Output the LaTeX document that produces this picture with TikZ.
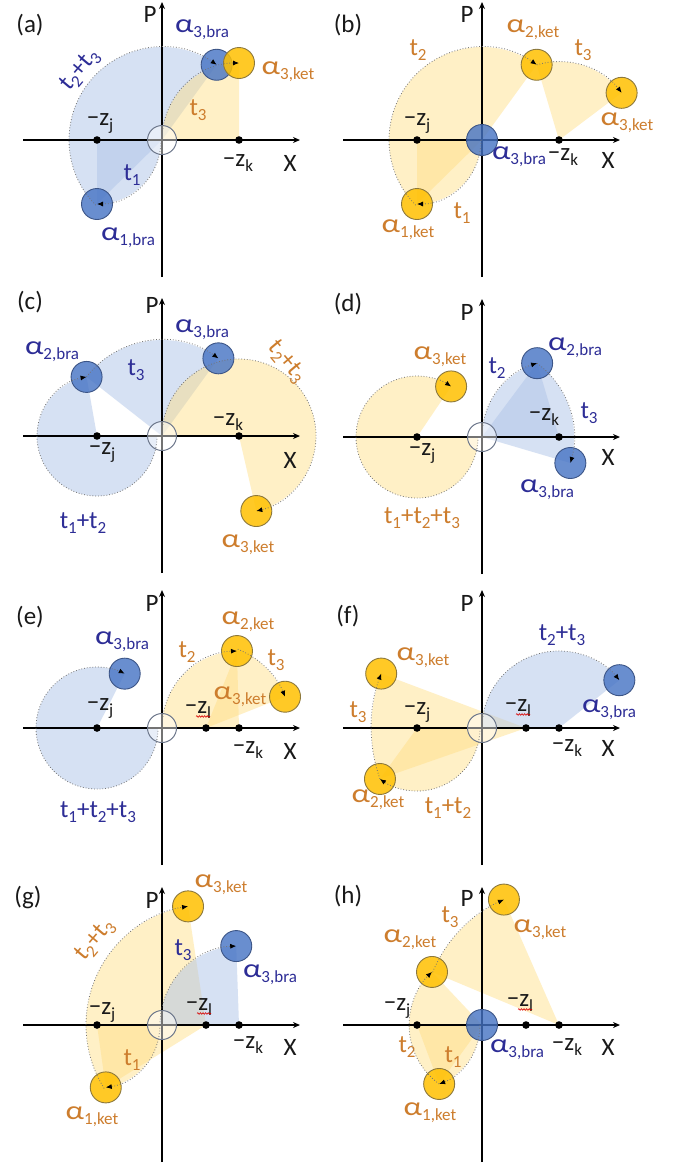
\documentclass[tikz,border=0pt]{standalone}
\usepackage{fontspec}
\setmainfont{Carlito}
\usetikzlibrary{arrows.meta,decorations.pathmorphing,calc}
\pgfdeclarelayer{sec}
\pgfdeclarelayer{ax}
\pgfdeclarelayer{fg}
\pgfsetlayers{sec,ax,main,fg}
\definecolor{bfill}{RGB}{175,196,232}
\definecolor{yfill}{RGB}{255,222,130}
\definecolor{bcirc}{RGB}{68,114,196}
\definecolor{bcircd}{RGB}{60,85,135}
\definecolor{ycirc}{RGB}{255,192,0}
\definecolor{ycircd}{RGB}{140,120,60}
\definecolor{ocirc}{RGB}{110,120,140}
\definecolor{tblue}{RGB}{45,45,150}
\definecolor{torange}{RGB}{205,125,45}
\definecolor{tblack}{RGB}{25,25,25}
\tikzset{
  bsec/.style={fill=bfill, fill opacity=0.5},
  ysec/.style={fill=yfill, fill opacity=0.45},
  axisline/.style={line width=1.5pt, draw=black, -{Stealth[length=7pt,width=6pt]}},
  traj/.style={draw=black!55, line width=0.8pt, dotted, -{Latex[length=6pt,width=5pt,color=black]}},
  bstate/.style={circle, minimum size=31pt, inner sep=0pt, fill=bcirc, fill opacity=0.8, draw=bcircd, line width=0.9pt},
  ystate/.style={circle, minimum size=31pt, inner sep=0pt, fill=ycirc, fill opacity=0.85, draw=ycircd, line width=0.9pt},
  ostate/.style={circle, minimum size=29pt, inner sep=0pt, fill=white, fill opacity=0.45, draw=ocirc, line width=1pt},
  lbl/.style={font=\fontsize{25}{29}\selectfont, inner sep=0pt},
  lblB/.style={lbl, text=tblue},
  lblO/.style={lbl, text=torange},
  lblK/.style={lbl, text=tblack},
  squig/.style={draw=red!85!black, line width=0.6pt, decorate, decoration={snake, amplitude=0.8pt, segment length=2.6pt}}
}
\newcommand\sbs[1]{\raisebox{-0.2em}{\fontsize{17}{17}\selectfont #1}}
\newcommand\Al[1]{\scalebox{1.3}[1.05]{α}\sbs{#1}}
\newcommand\mz[1]{−z\sbs{#1}}
% center, radius, start angle, end angle, name of end, sector style
\newcommand\Tr[6]{%
  \begin{pgfonlayer}{fg}\draw[traj] (#1) ++(#3:#2pt) arc[start angle=#3, end angle=#4, radius=#2pt] coordinate (#5);\end{pgfonlayer}%
  \begin{pgfonlayer}{sec}\fill[#6] (#1) -- ++(#3:#2pt) arc[start angle=#3, end angle=#4, radius=#2pt] -- cycle;\end{pgfonlayer}}
\newcommand\Dot[1]{\begin{pgfonlayer}{ax}\fill[black] (#1) circle[radius=3.8pt];\end{pgfonlayer}}
\newcommand\Axes{\begin{pgfonlayer}{ax}\draw[axisline] (-139,0) -- (138,0); \draw[axisline] (0,-137) -- (0,138);\end{pgfonlayer}}
\newcommand\Sq[1]{\draw[squig] ($(#1.base)+(-2,-3)$) -- ($(#1.base)+(12,-3)$);}

\begin{document}
\begin{tikzpicture}[x=1pt, y=1pt]
\begin{pgfonlayer}{sec}\fill[white] (0,0) rectangle (686,-1163);\end{pgfonlayer}
\useasboundingbox (0,0) rectangle (686,-1163);

% ---------------- (a)
\begin{scope}[shift={(162,-140)}]
  \coordinate (aO) at (0,0); \coordinate (aj) at (-65,0); \coordinate (ak) at (77,0);
  \Axes \Dot{aj} \Dot{ak}
  \Tr{aj}{64}{0}{-90}{a-1b}{bsec}
  \Tr{aO}{93}{224.5}{54}{a-3b}{bsec}
  \Tr{ak}{77}{180}{90}{a-3k}{ysec}
  \node[ostate] (a-o) at (aO) {};
  \node[bstate] (a-s1b) at (a-1b) {};
  \node[bstate] (a-s3b) at (a-3b) {};
  \node[ystate] (a-s3k) at (a-3k) {};
\end{scope}
\node[lblK] (a-tag) at (30,-25) {(a)};
\node[lblK] (a-P) at (150,-14) {P};
\node[lblK] (a-X) at (290,-163) {X};
\node[lblK] (a-zj) at (100,-123) {\mz{j}};
\node[lblK] (a-zk) at (238,-163) {\mz{k}};
\node[lblB] (a-l3b) at (202,-30) {\Al{3,bra}};
\node[lblO] (a-l3k) at (288,-72) {\Al{3,ket}};
\node[lblB] (a-l1b) at (128,-238) {\Al{1,bra}};
\node[lblB] (a-t1) at (132,-175) {t\sbs{1}};
\node[lblB, rotate=50] (a-t23) at (80,-70) {t\sbs{2}+t\sbs{3}};
\node[lblO] (a-t3) at (198,-110) {t\sbs{3}};

% ---------------- (b)
\begin{scope}[shift={(482,-140)}]
  \coordinate (bO) at (0,0); \coordinate (bj) at (-65,0); \coordinate (bk) at (77,0);
  \Axes \Dot{bj} \Dot{bk}
  \Tr{bj}{64}{0}{-90}{b-1k}{ysec}
  \Tr{bO}{93}{224.5}{54}{b-2k}{ysec}
  \Tr{bk}{78.4}{106.5}{37}{b-3k}{ysec}
  \node[bstate] (b-s3b) at (bO) {};
  \node[ystate] (b-s1k) at (b-1k) {};
  \node[ystate] (b-s2k) at (b-2k) {};
  \node[ystate] (b-s3k) at (b-3k) {};
\end{scope}
\node[lblK] (b-tag) at (348,-25) {(b)};
\node[lblK] (b-P) at (467,-14) {P};
\node[lblK] (b-X) at (608,-160) {X};
\node[lblK] (b-zj) at (417,-123) {\mz{j}};
\node[lblK] (b-zk) at (563,-157) {\mz{k}};
\node[lblO] (b-t2) at (418,-50) {t\sbs{2}};
\node[lblO] (b-l2k) at (533,-30) {\Al{2,ket}};
\node[lblO] (b-t3) at (583,-50) {t\sbs{3}};
\node[lblO] (b-l3k) at (627,-123) {\Al{3,ket}};
\node[lblB] (b-l3b) at (519,-157) {\Al{3,bra}};
\node[lblO] (b-t1) at (462,-213) {t\sbs{1}};
\node[lblO] (b-l1k) at (408,-230) {\Al{1,ket}};

% ---------------- (c)
\begin{scope}[shift={(162,-436)}]
  \coordinate (cO) at (0,0); \coordinate (cj) at (-65,0); \coordinate (ck) at (77,0);
  \Axes \Dot{cj} \Dot{ck}
  \Tr{cj}{60}{0}{-260}{c-2b}{bsec}
  \Tr{cO}{96}{141.9}{54}{c-3b}{bsec}
  \Tr{ck}{77}{180}{-77}{c-3k}{ysec}
  \node[ostate] (c-o) at (cO) {};
  \node[bstate] (c-s2b) at (c-2b) {};
  \node[bstate] (c-s3b) at (c-3b) {};
  \node[ystate] (c-s3k) at (c-3k) {};
\end{scope}
\node[lblK] (c-tag) at (30,-302) {(c)};
\node[lblK] (c-P) at (152,-305) {P};
\node[lblK] (c-X) at (290,-460) {X};
\node[lblK] (c-zj) at (102,-452) {\mz{j}};
\node[lblK] (c-zk) at (228,-422) {\mz{k}};
\node[lblB] (c-l2b) at (52,-352) {\Al{2,bra}};
\node[lblB] (c-t3) at (136,-370) {t\sbs{3}};
\node[lblB] (c-l3b) at (202,-330) {\Al{3,bra}};
\node[lblO, rotate=-50] (c-t23) at (287,-362) {t\sbs{2}+t\sbs{3}};
\node[lblB] (c-t12) at (83,-523) {t\sbs{1}+t\sbs{2}};
\node[lblO] (c-l3k) at (248,-545) {\Al{3,ket}};

% ---------------- (d)
\begin{scope}[shift={(482,-437)}]
  \coordinate (dO) at (0,0); \coordinate (dj) at (-65,0); \coordinate (dk) at (77,0);
  \Axes \Dot{dj} \Dot{dk}
  \Tr{dj}{61}{0}{-304}{d-3k}{ysec}
  \Tr{dk}{77}{180}{106.5}{d-2b}{bsec}
  \Tr{dO}{92.1}{53.3}{-16.4}{d-3b}{bsec}
  \node[ostate] (d-o) at (dO) {};
  \node[ystate] (d-s3k) at (d-3k) {};
  \node[bstate] (d-s2b) at (d-2b) {};
  \node[bstate] (d-s3b) at (d-3b) {};
\end{scope}
\node[lblK] (d-tag) at (348,-304) {(d)};
\node[lblK] (d-P) at (467,-312) {P};
\node[lblK] (d-X) at (608,-457) {X};
\node[lblK] (d-zj) at (422,-453) {\mz{j}};
\node[lblK] (d-zk) at (544,-417) {\mz{k}};
\node[lblO] (d-l3k) at (440,-357) {\Al{3,ket}};
\node[lblB] (d-t2) at (497,-368) {t\sbs{2}};
\node[lblB] (d-l2b) at (575,-348) {\Al{2,bra}};
\node[lblB] (d-t3) at (589,-413) {t\sbs{3}};
\node[lblB] (d-l3b) at (547,-490) {\Al{3,bra}};
\node[lblO] (d-t123) at (422,-518) {t\sbs{1}+t\sbs{2}+t\sbs{3}};

% ---------------- (e)
\begin{scope}[shift={(162,-728)}]
  \coordinate (eO) at (0,0); \coordinate (ej) at (-65,0); \coordinate (ek) at (77,0); \coordinate (el) at (44,0);
  \Axes \Dot{ej} \Dot{ek} \Dot{el}
  \Tr{ej}{61}{0}{-297}{e-3b}{bsec}
  \Tr{ek}{77}{180}{91.5}{e-2k}{ysec}
  \Tr{el}{85}{68.1}{21.6}{e-3k}{ysec}
  \node[ostate] (e-o) at (eO) {};
  \node[bstate] (e-s3b) at (e-3b) {};
  \node[ystate] (e-s2k) at (e-2k) {};
  \node[ystate] (e-s3k) at (e-3k) {};
\end{scope}
\node[lblK] (e-tag) at (30,-617) {(e)};
\node[lblK] (e-P) at (152,-603) {P};
\node[lblK] (e-X) at (290,-751) {X};
\node[lblK] (e-zj) at (100,-708) {\mz{j}};
\node[lblK] (e-zl) at (198,-710) {\mz{l}};
\node[lblK] (e-zk) at (248,-750) {\mz{k}};
\Sq{e-zl}
\node[lblB] (e-l3b) at (122,-642) {\Al{3,bra}};
\node[lblO] (e-t2) at (187,-652) {t\sbs{2}};
\node[lblO] (e-l2k) at (248,-622) {\Al{2,ket}};
\node[lblO] (e-t3) at (276,-660) {t\sbs{3}};
\node[lblO] (e-l3k) at (240,-697) {\Al{3,ket}};
\node[lblB] (e-t123) at (98,-812) {t\sbs{1}+t\sbs{2}+t\sbs{3}};

% ---------------- (f)
\begin{scope}[shift={(482,-728)}]
  \coordinate (fO) at (0,0); \coordinate (fj) at (-65,0); \coordinate (fk) at (77,0); \coordinate (fl) at (44,0);
  \Axes \Dot{fj} \Dot{fk} \Dot{fl}
  \Tr{fj}{63}{0}{-126}{f-2k}{ysec}
  \Tr{fl}{154.7}{-160.8}{-200.6}{f-3k}{ysec}
  \Tr{fk}{77}{180}{38.4}{f-3b}{bsec}
  \node[ostate] (f-o) at (fO) {};
  \node[ystate] (f-s2k) at (f-2k) {};
  \node[ystate] (f-s3k) at (f-3k) {};
  \node[bstate] (f-s3b) at (f-3b) {};
\end{scope}
\node[lblK] (f-tag) at (348,-616) {(f)};
\node[lblK] (f-P) at (467,-603) {P};
\node[lblK] (f-X) at (608,-748) {X};
\node[lblK] (f-zj) at (417,-712) {\mz{j}};
\node[lblK] (f-zl) at (518,-708) {\mz{l}};
\node[lblK] (f-zk) at (567,-748) {\mz{k}};
\Sq{f-zl}
\node[lblB] (f-t23) at (562,-635) {t\sbs{2}+t\sbs{3}};
\node[lblO] (f-l3k) at (423,-658) {\Al{3,ket}};
\node[lblO] (f-t3) at (358,-712) {t\sbs{3}};
\node[lblB] (f-l3b) at (609,-710) {\Al{3,bra}};
\node[lblO] (f-l2k) at (378,-800) {\Al{2,ket}};
\node[lblO] (f-t12) at (448,-808) {t\sbs{1}+t\sbs{2}};

% ---------------- (g)
\begin{scope}[shift={(162,-1025)}]
  \coordinate (gO) at (0,0); \coordinate (gj) at (-65,0); \coordinate (gk) at (77,0); \coordinate (gl) at (44,0);
  \Axes \Dot{gj} \Dot{gk} \Dot{gl}
  \Tr{gj}{63}{0}{-82}{g-1k}{ysec}
  \Tr{gl}{120}{211.9}{98.6}{g-3k}{ysec}
  \Tr{gk}{79}{180}{92}{g-3b}{bsec}
  \node[ostate] (g-o) at (gO) {};
  \node[ystate] (g-s1k) at (g-1k) {};
  \node[ystate] (g-s3k) at (g-3k) {};
  \node[bstate] (g-s3b) at (g-3b) {};
\end{scope}
\node[lblK] (g-tag) at (28,-897) {(g)};
\node[lblK] (g-P) at (152,-900) {P};
\node[lblK] (g-X) at (290,-1047) {X};
\node[lblK] (g-zj) at (102,-1012) {\mz{j}};
\node[lblK] (g-zl) at (199,-1007) {\mz{l}};
\node[lblK] (g-zk) at (248,-1045) {\mz{k}};
\Sq{g-zl}
\node[lblO] (g-l3k) at (221,-885) {\Al{3,ket}};
\node[lblO, rotate=50] (g-t23) at (95,-940) {t\sbs{2}+t\sbs{3}};
\node[lblB] (g-t3) at (183,-950) {t\sbs{3}};
\node[lblB] (g-l3b) at (270,-975) {\Al{3,bra}};
\node[lblO] (g-t1) at (132,-1060) {t\sbs{1}};
\node[lblO] (g-l1k) at (92,-1117) {\Al{1,ket}};

% ---------------- (h)
\begin{scope}[shift={(482,-1025)}]
  \coordinate (hO) at (0,0); \coordinate (hj) at (-65,0); \coordinate (hk) at (77,0); \coordinate (hl) at (44,0);
  \Axes \Dot{hj} \Dot{hk} \Dot{hl}
  \Tr{hj}{63}{0}{-69.4}{h-1k}{ysec}
  \Tr{hO}{72.9}{234}{133.3}{h-2k}{ysec}
  \Tr{hk}{137}{157.3}{113.7}{h-3k}{ysec}
  \node[bstate] (h-s3b) at (hO) {};
  \node[ystate] (h-s1k) at (h-1k) {};
  \node[ystate] (h-s2k) at (h-2k) {};
  \node[ystate] (h-s3k) at (h-3k) {};
\end{scope}
\node[lblK] (h-tag) at (348,-896) {(h)};
\node[lblK] (h-P) at (467,-898) {P};
\node[lblK] (h-X) at (608,-1047) {X};
\node[lblK] (h-zj) at (397,-1008) {\mz{j}};
\node[lblK] (h-zl) at (520,-1003) {\mz{l}};
\node[lblK] (h-zk) at (567,-1047) {\mz{k}};
\Sq{h-zl}
\node[lblO] (h-t3) at (450,-917) {t\sbs{3}};
\node[lblO] (h-l3k) at (540,-930) {\Al{3,ket}};
\node[lblO] (h-l2k) at (410,-940) {\Al{2,ket}};
\node[lblO] (h-t2) at (407,-1047) {t\sbs{2}};
\node[lblO] (h-t1) at (453,-1057) {t\sbs{1}};
\node[lblB] (h-l3b) at (517,-1050) {\Al{3,bra}};
\node[lblO] (h-l1k) at (430,-1113) {\Al{1,ket}};
\end{tikzpicture}
\end{document}
